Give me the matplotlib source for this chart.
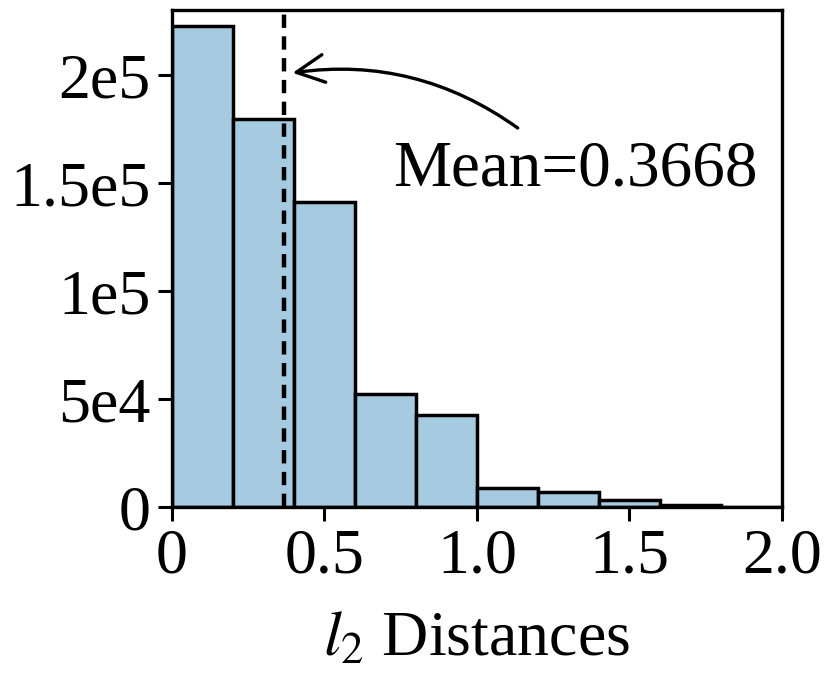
import matplotlib
matplotlib.use("Agg")
import matplotlib.pyplot as plt
import numpy as np

plt.rcParams['font.family'] = ['Liberation Serif', 'DejaVu Serif']
plt.rcParams['mathtext.fontset'] = 'stix'

# histogram data (bin width 0.2)
bin_edges = [0.0, 0.2, 0.4, 0.6, 0.8, 1.0, 1.2, 1.4, 1.6, 1.8, 2.0]
counts = [222500, 179500, 141300, 52500, 42500, 9100, 6900, 3200, 1000, 150]
mean_val = 0.3668

xticks = [0, 0.5, 1.0, 1.5, 2.0]
xtick_labels = ['0', '0.5', '1.0', '1.5', '2.0']
yticks = [0, 5e4, 1e5, 1.5e5, 2e5]
ytick_labels = ['0', '5e4', '1e5', '1.5e5', '2e5']

fig = plt.figure(figsize=(8.3, 6.8), dpi=100)
ax = fig.add_axes([0.207, 0.254, 0.735, 0.731])

left = np.array(bin_edges[:-1])
widths = np.diff(bin_edges)
ax.bar(left, counts, width=widths, align='edge', color='#a6cae0',
       edgecolor='black', linewidth=2.5)

# mean line
ax.axvline(mean_val, color='black', lw=3.2, linestyle=(0, (3.0, 1.9)))

# curved arrow pointing at the mean line
ax.annotate('', xy=(0.396, 2.01e5), xytext=(1.134, 1.755e5),
            arrowprops=dict(arrowstyle='->', connectionstyle='arc3,rad=0.2',
                            lw=2.4, color='black', mutation_scale=50,
                            shrinkA=0, shrinkB=0))
ax.text(0.725, 1.49e5, f'Mean={mean_val}', fontsize=47,
        ha='left', va='baseline')

ax.set_xlim(0, 2.0)
ax.set_ylim(0, 2.30e5)
ax.set_xticks(xticks)
ax.set_xticklabels(xtick_labels)
ax.set_yticks(yticks)
ax.set_yticklabels(ytick_labels)
ax.tick_params(labelsize=46, width=2.2, length=10, pad=5)
for s in ax.spines.values():
    s.set_linewidth(2.4)

ax.set_xlabel(r'$l_{2}$ Distances', fontsize=46, labelpad=18)

fig.savefig('out.png', dpi=100)
